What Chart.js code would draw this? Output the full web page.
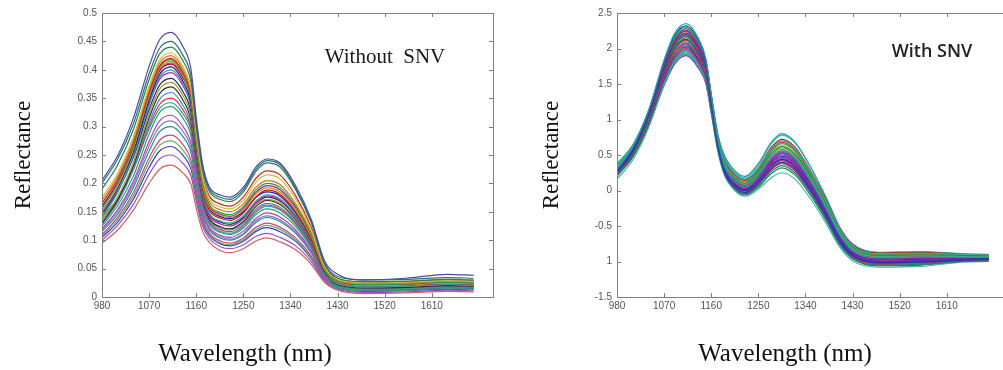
<!DOCTYPE html>
<html lang="en">
<head>
<meta charset="UTF-8">
<title>Reflectance spectra - without / with SNV</title>
<script src="https://cdn.jsdelivr.net/npm/chart.js"></script>
<style>
  html, body { margin: 0; padding: 0; background: #fff; overflow: hidden; }
  body { width: 1003px; height: 370px; position: relative; }
  .panel { position: absolute; top: 0; height: 370px; overflow: hidden; }
  #rawWrap { left: 0; width: 500px; }
  #snvWrap { left: 520px; width: 483px; }
</style>
</head>
<body>
<div class="panel" id="rawWrap"><canvas id="rawChart" width="500" height="370"></canvas></div>
<div class="panel" id="snvWrap"><canvas id="snvChart" width="500" height="370"></canvas></div>
<script>
// wavelength grid (nm) shared by every spectrum
const wavelengths = [980, 1010, 1040, 1070, 1090, 1112, 1135, 1150, 1160, 1172, 1185, 1205, 1225, 1250, 1275, 1295, 1320, 1350, 1380, 1405, 1430, 1480, 1560, 1640, 1690];

const xTicks = [980, 1070, 1160, 1250, 1340, 1430, 1520, 1610];
const rawYTicks = [0, 0.05, 0.1, 0.15, 0.2, 0.25, 0.3, 0.35, 0.4, 0.45, 0.5];
const rawYLabels = ['0', '0.05', '0.1', '0.15', '0.2', '0.25', '0.3', '0.35', '0.4', '0.45', '0.5'];
const snvYTicks = [-1.5, -1, -0.5, 0, 0.5, 1, 1.5, 2, 2.5];
const snvYLabels = ['-1.5', '1', '-0.5', '0', '0.5', '1', '1.5', '2', '2.5'];

// raw spectra (left panel)
const raw1  = [.205,.249,.315,.406,.453,.466,.440,.401,.316,.235,.194,.180,.176,.193,.230,.243,.236,.196,.136,.064,.040,.030,.033,.040,.038];
const raw2  = [.200,.243,.305,.393,.438,.450,.425,.388,.307,.229,.190,.176,.172,.189,.226,.240,.233,.192,.132,.060,.036,.030,.031,.034,.033];
const raw3  = [.190,.233,.295,.383,.428,.440,.415,.378,.300,.224,.186,.172,.168,.185,.222,.236,.229,.189,.130,.059,.033,.027,.028,.031,.030];
const raw4  = [.175,.218,.282,.371,.417,.430,.405,.366,.289,.212,.173,.159,.155,.170,.203,.215,.208,.172,.118,.054,.031,.025,.026,.029,.028];
const raw5  = [.170,.213,.277,.366,.412,.425,.400,.361,.284,.207,.168,.154,.150,.164,.194,.205,.198,.164,.113,.051,.030,.024,.025,.028,.027];
const raw6  = [.165,.208,.272,.361,.407,.420,.395,.356,.287,.214,.178,.164,.160,.176,.210,.222,.215,.178,.122,.056,.032,.026,.027,.030,.029];
const raw7  = [.155,.200,.265,.358,.405,.418,.392,.352,.278,.201,.163,.149,.145,.159,.189,.200,.193,.160,.110,.050,.028,.022,.023,.026,.025];
const raw8  = [.150,.195,.261,.354,.402,.415,.389,.349,.274,.197,.158,.144,.140,.153,.182,.192,.185,.154,.106,.048,.026,.020,.021,.024,.023];
const raw9  = [.158,.201,.265,.354,.399,.412,.387,.349,.273,.198,.160,.146,.142,.156,.185,.196,.189,.157,.108,.049,.027,.021,.022,.025,.024];
const raw10 = [.160,.203,.265,.353,.398,.410,.385,.348,.269,.192,.153,.139,.135,.148,.177,.188,.181,.150,.103,.047,.030,.024,.025,.028,.027];
const raw11 = [.148,.192,.256,.346,.392,.405,.379,.341,.268,.193,.156,.142,.138,.150,.176,.185,.178,.148,.102,.046,.026,.020,.021,.024,.023];
const raw12 = [.140,.184,.249,.340,.387,.400,.374,.335,.261,.186,.148,.134,.130,.143,.170,.180,.173,.144,.099,.045,.024,.018,.019,.022,.021];
const raw13 = [.150,.192,.253,.339,.383,.395,.371,.334,.256,.181,.143,.129,.125,.138,.167,.178,.171,.142,.098,.045,.025,.019,.020,.023,.022];
const raw14 = [.145,.186,.246,.330,.373,.385,.361,.325,.254,.182,.146,.132,.128,.140,.166,.176,.169,.141,.097,.044,.026,.020,.021,.024,.023];
const raw15 = [.135,.176,.237,.322,.366,.378,.354,.317,.249,.178,.143,.129,.125,.137,.163,.172,.165,.138,.095,.043,.024,.018,.019,.022,.021];
const raw16 = [.130,.171,.231,.315,.358,.370,.346,.310,.242,.173,.138,.124,.120,.133,.160,.170,.163,.136,.094,.043,.022,.016,.017,.020,.019];
const raw17 = [.128,.167,.225,.307,.348,.360,.337,.302,.237,.170,.136,.122,.118,.130,.156,.165,.158,.132,.091,.041,.023,.017,.018,.021,.020];
const raw18 = [.135,.172,.225,.301,.339,.350,.329,.296,.231,.166,.133,.119,.115,.127,.153,.162,.155,.130,.089,.041,.024,.018,.019,.022,.021];
const raw19 = [.140,.174,.225,.296,.332,.342,.322,.292,.225,.162,.130,.116,.112,.124,.150,.160,.153,.128,.088,.040,.025,.019,.020,.023,.022];
const raw20 = [.125,.161,.213,.287,.325,.335,.314,.283,.221,.159,.128,.114,.110,.121,.146,.155,.148,.124,.085,.039,.020,.014,.015,.018,.017];
const raw21 = [.120,.154,.204,.274,.310,.320,.300,.270,.212,.153,.123,.109,.105,.116,.139,.148,.141,.118,.081,.037,.021,.015,.016,.019,.018];
const raw22 = [.118,.151,.199,.266,.300,.310,.291,.262,.206,.149,.120,.106,.102,.112,.135,.143,.136,.114,.079,.036,.020,.014,.015,.018,.017];
const raw23 = [.115,.146,.193,.257,.291,.300,.282,.254,.200,.145,.118,.104,.100,.110,.132,.140,.133,.112,.077,.035,.018,.012,.013,.016,.015];
const raw24 = [.110,.140,.184,.245,.276,.285,.268,.241,.190,.139,.113,.099,.095,.104,.123,.130,.123,.104,.072,.033,.019,.013,.014,.017,.016];
const raw25 = [.108,.136,.178,.237,.267,.275,.258,.233,.184,.135,.110,.096,.092,.101,.119,.126,.119,.101,.069,.032,.017,.011,.012,.015,.014];
const raw26 = [.105,.132,.172,.228,.257,.265,.249,.225,.179,.132,.108,.094,.090,.098,.116,.122,.115,.098,.067,.031,.016,.010,.011,.014,.013];
const raw27 = [.100,.126,.163,.216,.243,.250,.235,.213,.169,.125,.103,.089,.085,.092,.107,.112,.105,.090,.062,.028,.014,.008,.009,.012,.011];
const raw28 = [.095,.118,.153,.200,.225,.232,.218,.198,.157,.116,.096,.082,.078,.085,.099,.104,.097,.083,.057,.026,.012,.006,.007,.010,.009];

// SNV-corrected spectra (right panel)
const snv1  = [.30,.61,1.12,1.84,2.21,2.35,2.15,1.85,1.35,.75,.35,.13,.05,.20,.45,.55,.45,.13,-.26,-.62,-.85,-.95,-.94,-.94,-.94];
const snv2  = [.27,.58,1.09,1.81,2.18,2.32,2.12,1.82,1.31,.70,.30,.08,.00,.135,.36,.45,.35,.04,-.33,-.68,-.90,-1.00,-.99,-.97,-.96];
const snv3  = [.33,.63,1.12,1.81,2.16,2.30,2.10,1.82,1.35,.77,.39,.17,.09,.24,.50,.60,.49,.17,-.23,-.59,-.82,-.93,-.92,-.93,-.935];
const snv4  = [.33,.62,1.11,1.79,2.14,2.28,2.09,1.81,1.34,.78,.40,.18,.10,.26,.52,.62,.51,.19,-.21,-.58,-.81,-.92,-.91,-.92,-.93];
const snv5  = [.29,.59,1.08,1.77,2.12,2.26,2.06,1.79,1.32,.75,.37,.15,.07,.22,.46,.56,.46,.14,-.25,-.61,-.84,-.94,-.93,-.94,-.94];
const snv6  = [.25,.55,1.05,1.75,2.11,2.25,2.05,1.76,1.26,.67,.27,.05,-.03,.10,.31,.40,.30,.00,-.37,-.71,-.92,-1.02,-1.01,-.98,-.97];
const snv7  = [.36,.64,1.11,1.77,2.11,2.24,2.05,1.80,1.35,.82,.46,.24,.16,.32,.59,.70,.59,.26,-.16,-.54,-.78,-.89,-.88,-.90,-.91];
const snv8  = [.35,.63,1.10,1.75,2.09,2.22,2.03,1.78,1.34,.80,.45,.23,.15,.32,.61,.72,.61,.27,-.14,-.53,-.77,-.88,-.87,-.90,-.91];
const snv9  = [.28,.57,1.05,1.72,2.07,2.20,2.01,1.74,1.28,.72,.35,.13,.05,.19,.41,.50,.40,.09,-.29,-.65,-.87,-.97,-.96,-.955,-.95];
const snv10 = [.22,.51,1.00,1.69,2.04,2.18,1.98,1.70,1.22,.64,.25,.03,-.05,.07,.27,.35,.25,-.04,-.41,-.74,-.95,-1.05,-1.04,-1.00,-.99];
const snv11 = [.26,.55,1.02,1.69,2.04,2.17,1.98,1.71,1.25,.70,.33,.11,.03,.16,.38,.47,.37,.06,-.32,-.67,-.89,-.99,-.98,-.965,-.96];
const snv12 = [.31,.59,1.05,1.69,2.02,2.15,1.97,1.72,1.29,.77,.42,.20,.12,.28,.55,.66,.55,.22,-.18,-.56,-.79,-.90,-.89,-.91,-.92];
const snv13 = [.26,.54,1.01,1.66,2.00,2.13,1.94,1.68,1.23,.68,.32,.10,.02,.16,.39,.48,.38,.07,-.31,-.66,-.88,-.98,-.97,-.96,-.955];
const snv14 = [.21,.50,.97,1.64,1.99,2.12,1.93,1.66,1.19,.63,.26,.04,-.04,.09,.30,.38,.28,-.02,-.39,-.73,-.94,-1.04,-1.03,-.99,-.98];
const snv15 = [.31,.58,1.03,1.66,1.98,2.11,1.93,1.68,1.26,.74,.40,.18,.10,.26,.52,.63,.52,.20,-.20,-.57,-.80,-.91,-.90,-.92,-.93];
const snv16 = [.38,.64,1.07,1.67,1.98,2.10,1.93,1.70,1.29,.80,.48,.26,.18,.36,.66,.78,.67,.32,-.11,-.51,-.75,-.87,-.86,-.89,-.90];
const snv17 = [.24,.52,.98,1.62,1.95,2.08,1.90,1.63,1.18,.64,.28,.06,-.02,.11,.33,.42,.32,.01,-.36,-.71,-.93,-1.03,-1.02,-.99,-.98];
const snv18 = [.28,.55,1.00,1.62,1.95,2.07,1.89,1.64,1.21,.69,.35,.13,.05,.19,.43,.53,.43,.11,-.27,-.63,-.86,-.96,-.95,-.95,-.95];
const snv19 = [.30,.56,1.00,1.61,1.93,2.05,1.88,1.63,1.22,.71,.38,.16,.08,.23,.48,.58,.47,.16,-.24,-.60,-.82,-.93,-.92,-.93,-.935];
const snv20 = [.25,.52,.97,1.59,1.92,2.04,1.86,1.61,1.18,.66,.31,.09,.01,.14,.35,.44,.34,.03,-.34,-.69,-.91,-1.01,-1.00,-.98,-.97];
const snv21 = [.20,.47,.93,1.57,1.89,2.02,1.84,1.58,1.13,.60,.24,.02,-.06,.05,.24,.32,.22,-.07,-.43,-.76,-.96,-1.06,-1.05,-1.00,-.99];
const snv22 = [.34,.59,1.00,1.59,1.88,2.00,1.83,1.61,1.22,.75,.44,.22,.14,.30,.57,.68,.57,.24,-.17,-.55,-.79,-.90,-.89,-.91,-.92];
const snv23 = [.29,.55,.97,1.57,1.87,1.99,1.82,1.58,1.18,.69,.36,.14,.06,.20,.44,.54,.44,.12,-.27,-.62,-.85,-.95,-.94,-.945,-.945];
const snv24 = [.27,.53,.95,1.55,1.85,1.97,1.80,1.56,1.16,.67,.34,.12,.04,.18,.42,.52,.42,.11,-.28,-.63,-.86,-.96,-.95,-.95,-.95];
const snv25 = [.16,.43,.88,1.50,1.83,1.95,1.77,1.52,1.09,.57,.22,.00,-.08,.02,.18,.25,.16,-.12,-.47,-.79,-.99,-1.08,-1.07,-1.01,-1.00];
const snv26 = [.24,.50,.92,1.52,1.82,1.94,1.77,1.53,1.12,.62,.29,.07,-.01,.12,.34,.43,.33,.02,-.35,-.70,-.92,-1.02,-1.01,-.98,-.97];
const snv27 = [.32,.56,.96,1.52,1.81,1.92,1.76,1.57,1.21,.78,.50,.28,.20,.38,.68,.80,.68,.33,-.11,-.51,-.76,-.88,-.87,-.90,-.91];
const snv28 = [.23,.48,.90,1.48,1.78,1.90,1.73,1.50,1.10,.62,.30,.08,.00,.11,.30,.38,.28,-.01,-.37,-.70,-.90,-1.00,-.99,-.97,-.96];

const rawSeries = [raw1, raw2, raw3, raw4, raw5, raw6, raw7, raw8, raw9, raw10, raw11, raw12, raw13, raw14,
                   raw15, raw16, raw17, raw18, raw19, raw20, raw21, raw22, raw23, raw24, raw25, raw26, raw27, raw28];
const snvSeries = [snv1, snv2, snv3, snv4, snv5, snv6, snv7, snv8, snv9, snv10, snv11, snv12, snv13, snv14,
                   snv15, snv16, snv17, snv18, snv19, snv20, snv21, snv22, snv23, snv24, snv25, snv26, snv27, snv28];

const rawColors = ['#4a4aa8', '#2a7080', '#2f7f4f', '#c8c040', '#e07020', '#d02a1a', '#2a9a40', '#d08a10', '#8a2aa0',
                   '#c01818', '#1a1aa8', '#30a0a0', '#c020b0', '#203070', '#a0a020', '#303030', '#3a8ad0', '#e03a3a',
                   '#20a0b0', '#30a060', '#b040c0', '#7a7ac0', '#2a8a8a', '#d04080', '#60b060', '#3a3ad0', '#a050c0', '#d06060'];
const snvColors = ['#20a0a0', '#2040c0', '#40b080', '#208040', '#c02080', '#3030c0', '#30b0b0', '#c01818', '#8020a0',
                   '#208060', '#d02090', '#30a040', '#2030a0', '#e03030', '#a0a020', '#30b0b0', '#d02090', '#8030b0',
                   '#a0a020', '#1a1aa8', '#208060', '#e03030', '#c040c0', '#4060d0', '#40b0b0', '#20a040', '#20a080', '#8030b0'];

Chart.defaults.font.family = "'Liberation Sans', Arial, sans-serif";

// matlab-like box with inward tick marks, plus free text
const framePlugin = {
  id: 'frame',
  afterDraw(chart, args, opts) {
    const { ctx, chartArea: a, scales: { x, y } } = chart;
    ctx.save();
    ctx.strokeStyle = '#808080';
    ctx.lineWidth = 1;
    ctx.strokeRect(a.left + 0.5, a.top + 0.5, a.right - a.left, a.bottom - a.top);
    ctx.beginPath();
    x.ticks.forEach(t => {
      const px = Math.round(x.getPixelForValue(t.value)) + 0.5;
      ctx.moveTo(px, a.bottom); ctx.lineTo(px, a.bottom - 4);
      ctx.moveTo(px, a.top); ctx.lineTo(px, a.top + 4);
    });
    y.ticks.forEach(t => {
      const py = Math.round(y.getPixelForValue(t.value)) + 0.5;
      ctx.moveTo(a.left, py); ctx.lineTo(a.left + 4, py);
      ctx.moveTo(a.right, py); ctx.lineTo(a.right - 4, py);
    });
    ctx.stroke();
    ctx.textAlign = 'center';
    ctx.textBaseline = 'middle';
    (opts.texts || []).forEach(t => {
      ctx.font = t.font;
      ctx.fillStyle = t.color;
      ctx.fillText(t.text, t.x, t.y);
    });
    ctx.restore();
  }
};

function makeChart(id, series, colors, cfg) {
  const datasets = series.map((vals, i) => ({
    data: vals.map((v, k) => ({ x: wavelengths[k], y: v })),
    borderColor: colors[i],
    borderWidth: 1.2,
    pointRadius: 0,
    fill: false,
    cubicInterpolationMode: 'monotone'
  }));
  return new Chart(document.getElementById(id), {
    type: 'line',
    data: { datasets },
    options: {
      responsive: false,
      animation: false,
      devicePixelRatio: 1,
      layout: { padding: { top: 13, right: cfg.rightPad, bottom: 0, left: 0 } },
      plugins: {
        legend: { display: false },
        tooltip: { enabled: false },
        frame: { texts: cfg.texts }
      },
      scales: {
        x: {
          type: 'linear',
          min: 980,
          max: 1727,
          afterBuildTicks: s => { s.ticks = xTicks.map(v => ({ value: v })); },
          afterFit: s => { s.height = 73; },
          grid: { display: false, drawTicks: false },
          border: { display: false },
          ticks: { padding: 3, color: '#555', font: { size: 10 }, maxRotation: 0, autoSkip: false,
                   callback: v => String(v) }
        },
        y: {
          min: cfg.yMin,
          max: cfg.yMax,
          afterBuildTicks: s => { s.ticks = cfg.yTicks.map(v => ({ value: v })); },
          afterFit: s => { s.width = cfg.yWidth; },
          grid: { display: false, drawTicks: false },
          border: { display: false },
          ticks: { padding: 5, color: '#555', font: { size: 10 }, autoSkip: false,
                   callback: (v, i) => cfg.yLabels[i] },
          title: {
            display: true,
            text: 'Reflectance',
            color: '#111',
            font: { family: "'Liberation Serif', 'Times New Roman', serif", size: 23 },
            padding: { top: cfg.titlePad, bottom: 0 }
          }
        }
      }
    },
    plugins: [framePlugin]
  });
}

makeChart('rawChart', rawSeries, rawColors, {
  yMin: 0, yMax: 0.5, yTicks: rawYTicks, yLabels: rawYLabels,
  yWidth: 102, rightPad: 7, titlePad: 10,
  texts: [
    { text: 'Without  SNV', x: 385, y: 57, color: '#1a1a1a', font: "21px 'Liberation Serif', serif" },
    { text: 'Wavelength (nm)', x: 245, y: 354, color: '#111', font: "25px 'Liberation Serif', serif" }
  ]
});

makeChart('snvChart', snvSeries, snvColors, {
  yMin: -1.5, yMax: 2.5, yTicks: snvYTicks, yLabels: snvYLabels,
  yWidth: 97, rightPad: 12, titlePad: 18,
  texts: [
    { text: 'With SNV', x: 412, y: 52, color: '#222', font: "600 18px 'Open Sans', sans-serif" },
    { text: 'Wavelength (nm)', x: 265, y: 354, color: '#111', font: "25px 'Liberation Serif', serif" }
  ]
});
</script>
</body>
</html>
